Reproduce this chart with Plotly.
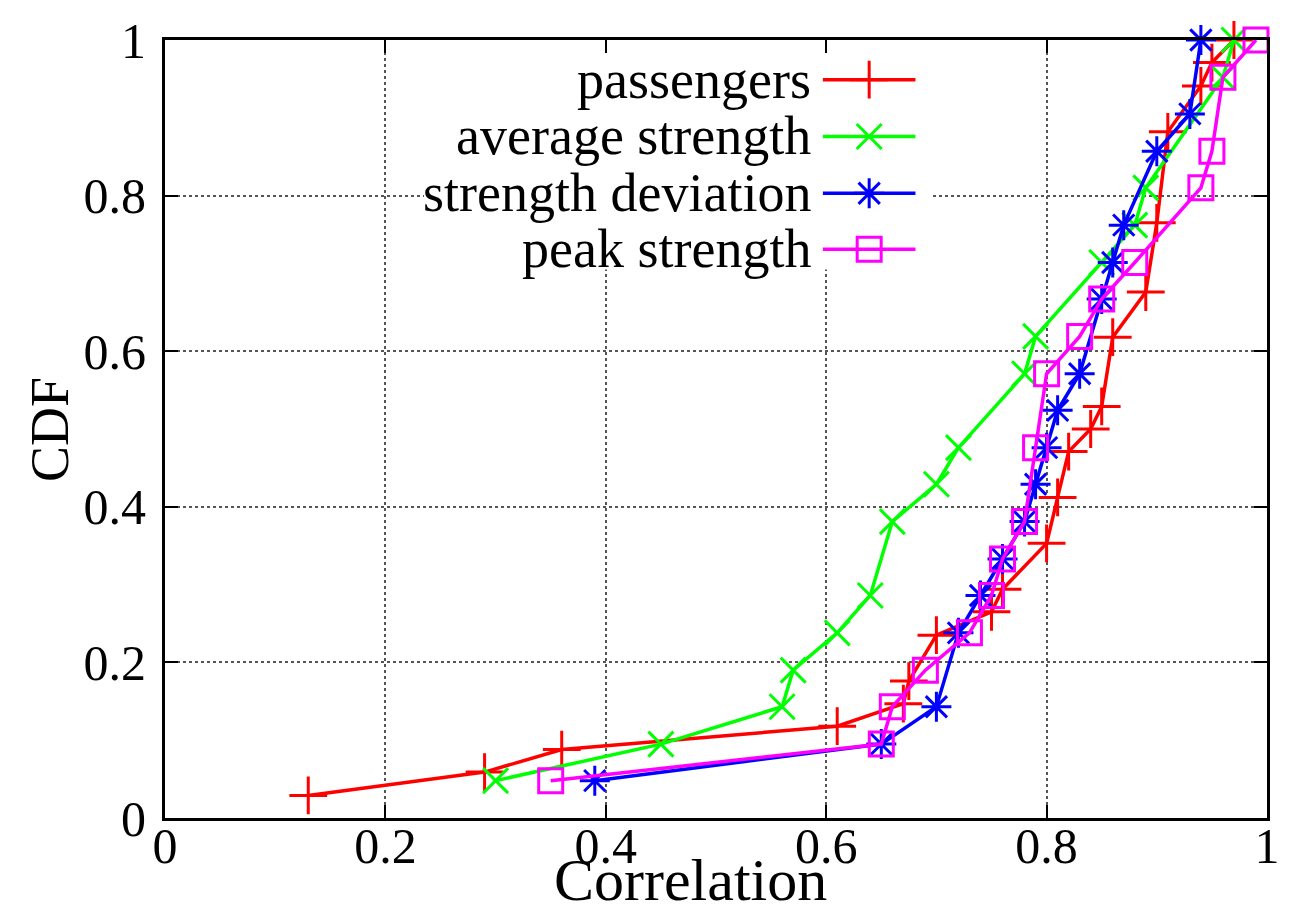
import plotly.graph_objects as go

# ---- data ----
passengers_x = [0.13, 0.29, 0.36, 0.61, 0.67, 0.675, 0.70, 0.75, 0.76, 0.80, 0.81,
                0.82, 0.84, 0.85, 0.86, 0.89, 0.90, 0.91, 0.94, 0.95, 0.97]
passengers_y = [0.029, 0.059, 0.088, 0.118, 0.147, 0.176, 0.235, 0.265, 0.294, 0.353, 0.412,
                0.471, 0.500, 0.529, 0.618, 0.676, 0.765, 0.882, 0.941, 0.971, 1.000]

avg_x = [0.30, 0.45, 0.56, 0.57, 0.61, 0.64, 0.66, 0.70, 0.72, 0.78, 0.79,
         0.85, 0.88, 0.89, 0.96, 0.97]
avg_y = [0.048, 0.095, 0.143, 0.190, 0.238, 0.286, 0.381, 0.429, 0.476, 0.571, 0.619,
         0.714, 0.762, 0.810, 0.952, 1.000]

dev_x = [0.39, 0.65, 0.70, 0.72, 0.74, 0.76, 0.78, 0.79, 0.80, 0.81, 0.83,
         0.85, 0.86, 0.87, 0.90, 0.93, 0.94]
dev_y = [0.048, 0.095, 0.143, 0.238, 0.286, 0.333, 0.381, 0.429, 0.476, 0.524, 0.571,
         0.667, 0.714, 0.762, 0.857, 0.905, 1.000]

peak_x = [0.35, 0.65, 0.66, 0.69, 0.73, 0.75, 0.76, 0.78, 0.79, 0.80, 0.83,
          0.85, 0.88, 0.94, 0.95, 0.96, 0.99]
peak_y = [0.048, 0.095, 0.143, 0.190, 0.238, 0.286, 0.333, 0.381, 0.476, 0.571, 0.619,
          0.667, 0.714, 0.810, 0.857, 0.952, 1.000]

series_names = ["passengers", "average strength", "strength deviation", "peak strength"]
series_colors = ["#ff0000", "#00ff00", "#0000ff", "#ff00ff"]
series_symbols = ["cross-thin-open", "x-thin-open", "asterisk-open", "square-open"]
series_sizes = [27, 25, 25, 24]
series_x = [passengers_x, avg_x, dev_x, peak_x]
series_y = [passengers_y, avg_y, dev_y, peak_y]

x_ticks = [0, 0.2, 0.4, 0.6, 0.8, 1]
y_ticks = [0, 0.2, 0.4, 0.6, 0.8, 1]

FONT = "Liberation Serif, Times New Roman, serif"

# plot-area geometry (pixels)
W, H = 1292, 916
ML, MR, MT, MB = 165, 21, 37, 98
PW, PH = W - ML - MR, H - MT - MB

fig = go.Figure()
for name, col, sym, sz, xs, ys in zip(series_names, series_colors, series_symbols,
                                      series_sizes, series_x, series_y):
    fig.add_trace(go.Scatter(
        x=xs, y=ys, mode="lines+markers", name=name, showlegend=False,
        line=dict(color=col, width=3.5),
        marker=dict(symbol=sym, size=sz, color=col, line=dict(color=col, width=3)),
        cliponaxis=False,
    ))

# ---- manual key (text on the left, sample on the right, like gnuplot) ----
key_rows = [0.949, 0.876, 0.803, 0.731]
key_line = [0.597, 0.681]
key_mark = 0.639
key_text_right = 0.588
for name, col, sym, sz, ry in zip(series_names, series_colors, series_symbols,
                                  series_sizes, key_rows):
    fig.add_trace(go.Scatter(
        x=key_line, y=[ry, ry], mode="lines", showlegend=False, hoverinfo="skip",
        line=dict(color=col, width=3.5)))
    fig.add_trace(go.Scatter(
        x=[key_mark], y=[ry], mode="markers", showlegend=False, hoverinfo="skip",
        marker=dict(symbol=sym, size=sz, color=col, line=dict(color=col, width=3))))
    fig.add_annotation(x=key_text_right, y=ry, xref="x", yref="y", text=name,
                       showarrow=False, xanchor="right", yanchor="middle",
                       font=dict(family=FONT, size=54, color="black"))

# white key box hiding the grid
fig.add_shape(type="rect", xref="x", yref="y", x0=0.235, x1=0.695, y0=0.705, y1=0.995,
              fillcolor="white", line=dict(width=0), layer="between")

axis_common = dict(
    showline=True, linecolor="black", linewidth=3, mirror="allticks",
    ticks="inside", ticklen=13, tickwidth=2, tickcolor="black",
    showgrid=True, gridcolor="#555555", griddash="dot", gridwidth=1.5,
    zeroline=False, tickfont=dict(family=FONT, size=50, color="black"),
)
fig.update_xaxes(range=[0, 1], tickvals=x_ticks, ticktext=[f"{v:g}" for v in x_ticks],
                 ticklabelstandoff=-18, **axis_common)
fig.update_yaxes(range=[0, 1], tickvals=y_ticks, ticktext=[f"{v:g}" for v in y_ticks],
                 ticklabelstandoff=6, **axis_common)

# axis titles positioned in pixel terms
fig.add_annotation(text="Correlation", xref="paper", yref="paper",
                   x=(692 - ML) / PW, y=-(880 - (H - MB)) / PH,
                   xanchor="center", yanchor="middle", showarrow=False,
                   font=dict(family=FONT, size=60, color="black"))
fig.add_annotation(text="CDF", xref="paper", yref="paper",
                   x=-(ML - 50) / PW, y=((H - MB) - 428) / PH,
                   xanchor="center", yanchor="middle", showarrow=False, textangle=-90,
                   font=dict(family=FONT, size=54, color="black"))

fig.update_layout(
    width=W, height=H,
    margin=dict(l=ML, r=MR, t=MT, b=MB),
    paper_bgcolor="white", plot_bgcolor="white",
    showlegend=False,
)

fig.write_html("out.html")
